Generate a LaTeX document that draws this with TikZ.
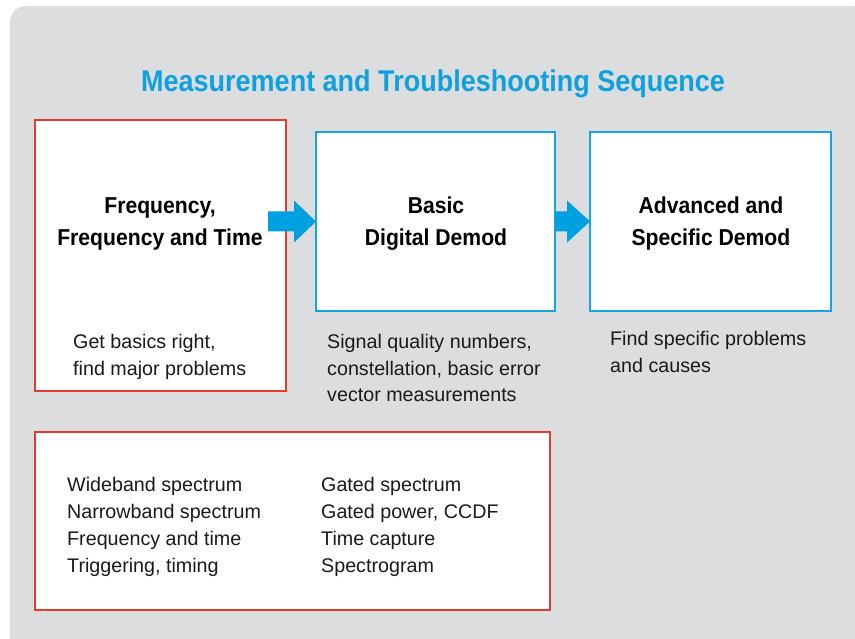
\documentclass[tikz,border=0pt]{standalone}
\usepackage{fontspec}
\setmainfont{Liberation Sans}
\newfontfamily\headfont{Liberation Sans}[FakeStretch=0.92]
\newfontfamily\titlefont{Liberation Sans}[FakeStretch=0.9]
\usetikzlibrary{calc}
\definecolor{panelgray}{HTML}{DCDDDF}
\definecolor{boxred}{HTML}{E8392B}
\definecolor{boxblue}{HTML}{19A3E0}
\definecolor{arrowblue}{HTML}{00A0E0}
\definecolor{titleblue}{HTML}{0FA0E0}
\definecolor{inktext}{HTML}{1A1A1A}
\tikzset{
  redbox/.style={draw=boxred, line width=2.8pt, fill=white, inner sep=0pt, outer sep=0pt},
  bluebox/.style={draw=boxblue, line width=2.8pt, fill=white, inner sep=0pt, outer sep=0pt},
  heading/.style={font=\headfont\fontsize{23}{32}\selectfont\bfseries, align=center, text=black, inner sep=0pt, anchor=base},
  bodytext/.style={font=\fontsize{19.7}{27}\selectfont, align=left, text=inktext, inner sep=0pt, anchor=base west},
  flowarrow/.style={fill=arrowblue, draw=none}
}
\begin{document}
\begin{tikzpicture}[x=1pt,y=-1pt]
\useasboundingbox (0,0) rectangle (855,639);
% panel
\fill[panelgray, rounded corners=16pt] (10,6) rectangle (870,639);
\fill[panelgray] (10,620) rectangle (30,639);
\fill[white] (855,0) rectangle (880,639);

% title
\node[font=\titlefont\fontsize{30}{34}\selectfont\bfseries, text=titleblue, inner sep=0pt, anchor=base] (title) at (433,92) {Measurement and Troubleshooting Sequence};

% stage boxes
\node[redbox, minimum width=251pt, minimum height=271pt] (freq) at (160.5,255.5) {};
\node[bluebox, minimum width=239pt, minimum height=179pt] (basic) at (435.5,221.5) {};
\node[bluebox, minimum width=241pt, minimum height=179pt] (adv) at (710.5,221.5) {};

% headings (anchored on the baseline of their last line)
\node[heading] (freqhead) at (160,245.5) {Frequency,\\Frequency and Time};
\node[heading] (basichead) at (436,245.5) {Basic\\Digital Demod};
\node[heading] (advhead) at (711,245.5) {Advanced and\\Specific Demod};

% descriptions
\node[bodytext] (freqtext) at (73,375) {Get basics right,\\find major problems};
\node[bodytext] (basictext) at (327,402) {Signal quality numbers,\\constellation, basic error\\vector measurements};
\node[bodytext] (advtext) at (610,373) {Find specific problems\\and causes};

% arrows between stages
\coordinate (a1tip) at (basic.west);
\coordinate (a1tail) at ($(freq.east |- basic.west)+(-18,0)$);
\fill[flowarrow] ($(a1tail)+(0,-10)$) -- ($(a1tip)+(-22,-10)$) -- ($(a1tip)+(-22,-21)$) -- (a1tip)
  -- ($(a1tip)+(-22,21)$) -- ($(a1tip)+(-22,10)$) -- ($(a1tail)+(0,10)$) -- cycle;
\coordinate (a2tip) at (adv.west);
\coordinate (a2tail) at (basic.east);
\fill[flowarrow] ($(a2tail)+(0,-10)$) -- ($(a2tip)+(-23,-10)$) -- ($(a2tip)+(-23,-21)$) -- (a2tip)
  -- ($(a2tip)+(-23,21)$) -- ($(a2tip)+(-23,10)$) -- ($(a2tail)+(0,10)$) -- cycle;

% measurement list
\node[redbox, minimum width=515pt, minimum height=178pt] (list) at (292.5,521) {};
\node[bodytext] (listleft) at (67,572) {Wideband spectrum\\Narrowband spectrum\\Frequency and time\\Triggering, timing};
\node[bodytext] (listright) at (321,572) {Gated spectrum\\Gated power, CCDF\\Time capture\\Spectrogram};
\end{tikzpicture}
\end{document}
